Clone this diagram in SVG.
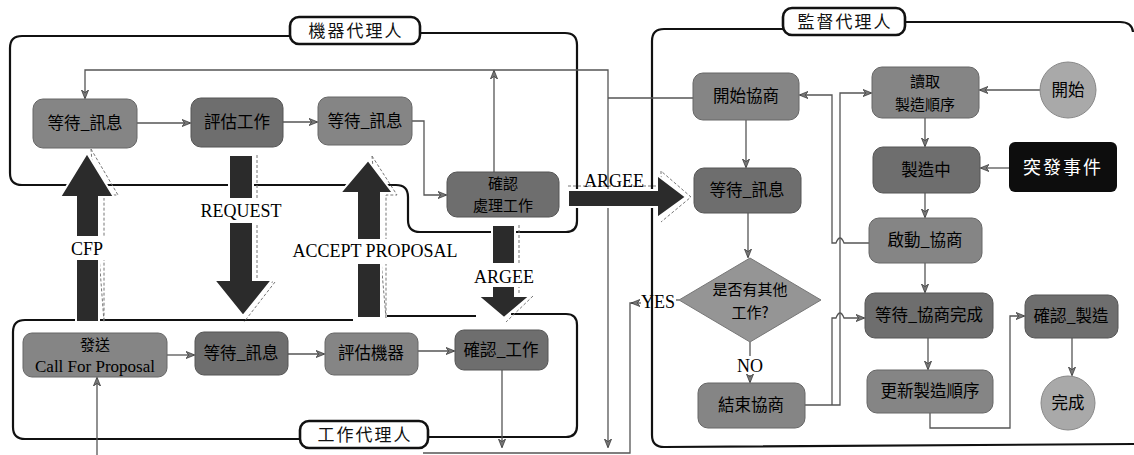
<svg xmlns="http://www.w3.org/2000/svg" width="1134" height="455" viewBox="0 0 1134 455">
<style>
.cont{fill:none;stroke:#111;stroke-width:2.2}
.lbox{fill:#fff;stroke:#111;stroke-width:2.6}
.ltxt{font-family:"Noto Sans CJK TC",sans-serif;font-size:17px;fill:#111;text-anchor:middle;letter-spacing:2px}
.node{fill:#858585;stroke:#666;stroke-width:1}
.dark{fill:#6e6e6e;stroke:#555;stroke-width:1}
.circ{fill:#a9a9a9;stroke:#888;stroke-width:1}
.ntxt{font-family:"Noto Sans CJK TC",sans-serif;font-size:16.5px;fill:#000;text-anchor:middle}
.ntxt2{font-family:"Noto Sans CJK TC",sans-serif;font-size:15px;fill:#000;text-anchor:middle}
.etxt{font-family:"Liberation Serif",serif;font-size:17px;fill:#000;text-anchor:middle}
.lab{font-family:"Liberation Serif",serif;font-size:18px;fill:#000;text-anchor:middle}
.con{fill:none;stroke:#555;stroke-width:1.3}
.big{fill:#2b2b2b;stroke:#fff;stroke-width:2}
.ghost{fill:none;stroke:#777;stroke-width:1;stroke-dasharray:3 2}
</style>
<defs>
<marker id="ah" viewBox="0 0 10 10" refX="9" refY="5" markerWidth="9" markerHeight="9" orient="auto" markerUnits="userSpaceOnUse">
<path d="M0,1 L10,5 L0,9 L3,5 z" fill="#777" stroke="#333" stroke-width="0.8"/>
</marker>
</defs>

<!-- containers -->
<g id="machine-agent">
<path class="cont" d="M290,36 H22 Q10,36 10,48 V173 Q10,185 22,185 H396 Q408,185 408,197 V220 Q408,232 420,232 H566 Q577,232 577,221 V45 Q577,33 565,33 H420"/>
<rect class="lbox" x="290" y="17" width="130" height="27" rx="9"/>
<text class="ltxt" x="356" y="37">機器代理人</text>
</g>
<g id="work-agent">
<path class="cont" d="M300,439 H25 Q13,439 13,427 V332 Q13,320 25,320 H353 M387,316 H476 M511,314 H566 Q577,314 577,325 V426 Q577,437 566,437 H428"/>
<rect class="lbox" x="300" y="421" width="128" height="27" rx="9"/>
<text class="ltxt" x="365" y="441">工作代理人</text>
</g>
<g id="supervisor-agent">
<path class="cont" d="M783,29 H664 Q652,29 652,41 V435 Q652,447 664,447 L1134,444 M905,22 H1120 Q1132,22 1133,32"/>
<rect class="lbox" x="783" y="8" width="122" height="27" rx="9"/>
<text class="ltxt" x="845" y="28">監督代理人</text>
</g>

<!-- connectors -->
<g id="connectors">
<path class="con" marker-end="url(#ah)" d="M137,123 H190"/>
<path class="con" marker-end="url(#ah)" d="M283,122 H317"/>
<path class="con" marker-end="url(#ah)" d="M412,121 H424 V195 H446"/>
<path class="con" marker-end="url(#ah)" d="M494,172 V71"/>
<path class="con" d="M693,98 H608"/>
<path class="con" marker-end="url(#ah)" d="M608,98 V70 H85 V98"/>
<path class="con" marker-end="url(#ah)" d="M608,98 V447"/>
<path class="con" marker-end="url(#ah)" d="M167,355 H194"/>
<path class="con" marker-end="url(#ah)" d="M288,354 H324"/>
<path class="con" marker-end="url(#ah)" d="M418,351 H454"/>
<path class="con" marker-end="url(#ah)" d="M502,370 V447"/>
<path class="con" d="M423,453 H630 V303 H636"/>
<path class="con" marker-end="url(#ah)" d="M641,303 H632"/>
<path class="con" d="M679,300 H676"/>
<path class="con" marker-end="url(#ah)" d="M97,455 V378"/>
<path class="con" marker-end="url(#ah)" d="M746,120 V167"/>
<path class="con" marker-end="url(#ah)" d="M748,213 V257"/>
<path class="con" d="M750,342 V356"/>
<path class="con" marker-end="url(#ah)" d="M750,375 V382"/>
<path class="con" marker-end="url(#ah)" d="M1040,90 H980"/>
<path class="con" marker-end="url(#ah)" d="M925,118 V146"/>
<path class="con" marker-end="url(#ah)" d="M1009,168 H981"/>
<path class="con" marker-end="url(#ah)" d="M925,193 V217"/>
<path class="con" marker-end="url(#ah)" d="M925,263 V292"/>
<path class="con" marker-end="url(#ah)" d="M928,338 V369"/>
<path class="con" marker-end="url(#ah)" d="M930,413 V428 H1010 V316 H1024"/>
<path class="con" marker-end="url(#ah)" d="M1072,338 V375"/>
<path class="con" marker-end="url(#ah)" d="M869,243 H844 Q840,233 836,243 H832 V95 H800"/>
<path class="con" marker-end="url(#ah)" d="M805,405 H840 V93 H871"/>
<path class="con" marker-end="url(#ah)" d="M832,405 V318 H836 Q840,308 844,318 H864"/>
</g>

<!-- big message arrows -->
<g id="arrow-cfp">
<polygon class="ghost" points="91,149 118,195 104,195 104,322"/>
<polygon class="big" points="87,153 114,197 99,197 99,322 76,322 76,197 60,197"/>
<rect x="66" y="236" width="44" height="24" fill="#fff"/>
<text class="lab" x="87" y="255">CFP</text>
</g>
<g id="arrow-request">
<polyline class="ghost" points="257,155 257,282 275,282 244,322"/>
<polygon class="big" points="229,155 253,155 253,280 272,280 243,316 214,280 229,280"/>
<rect x="194" y="198" width="96" height="25" fill="#fff"/>
<text class="lab" x="241" y="217">REQUEST</text>
</g>
<g id="arrow-accept">
<polygon class="ghost" points="372,156 397,195 386,195 386,318"/>
<polygon class="big" points="368,160 393,193 381,193 381,318 357,318 357,193 340,193"/>
<rect x="283" y="239" width="184" height="25" fill="#fff"/>
<text class="lab" x="375" y="257">ACCEPT  PROPOSAL</text>
</g>
<g id="arrow-argee-down">
<polyline class="ghost" points="519,225 519,296 533,296 506,322"/>
<polygon class="big" points="492,225 515,225 515,296 530,296 504,318 478,296 492,296"/>
<rect x="470" y="263" width="68" height="24" fill="#fff"/>
<text class="lab" x="504" y="283">ARGEE</text>
</g>
<g id="arrow-argee-right">
<polyline class="ghost" points="568,186 661,186 661,171 691,197 661,222"/>
<polygon class="big" points="568,190 657,190 657,175 686,197 657,218 657,207 568,207"/>
<text class="lab" x="614" y="187">ARGEE</text>
</g>

<!-- machine agent nodes -->
<g id="m-wait1"><rect class="node" x="33" y="99" width="104" height="49" rx="10"/><text class="ntxt" x="85" y="129">等待_訊息</text></g>
<g id="m-eval"><rect class="dark" x="191" y="98" width="92" height="49" rx="10"/><text class="ntxt" x="237" y="128">評估工作</text></g>
<g id="m-wait2"><rect class="node" x="318" y="97" width="94" height="48" rx="10"/><text class="ntxt" x="365" y="127">等待_訊息</text></g>
<g id="m-confirm"><rect class="dark" x="447" y="172" width="112" height="45" rx="10"/><text class="ntxt2" x="503" y="189">確認</text><text class="ntxt2" x="503" y="211">處理工作</text></g>

<!-- work agent nodes -->
<g id="w-cfp"><rect class="node" x="23" y="333" width="144" height="44" rx="9"/><text class="ntxt2" x="95" y="350">發送</text><text class="etxt" x="95" y="372">Call For Proposal</text></g>
<g id="w-wait"><rect class="dark" x="195" y="332" width="93" height="43" rx="9"/><text class="ntxt" x="241" y="359">等待_訊息</text></g>
<g id="w-eval"><rect class="node" x="325" y="333" width="93" height="42" rx="9"/><text class="ntxt" x="371" y="359">評估機器</text></g>
<g id="w-confirm"><rect class="dark" x="455" y="330" width="93" height="40" rx="9"/><text class="ntxt" x="501" y="356">確認_工作</text></g>

<!-- supervisor nodes -->
<g id="s-start-neg"><rect class="node" x="693" y="73" width="106" height="47" rx="10"/><text class="ntxt" x="746" y="102">開始協商</text></g>
<g id="s-wait"><rect class="dark" x="694" y="168" width="107" height="45" rx="10"/><text class="ntxt" x="747" y="196">等待_訊息</text></g>
<g id="s-decision"><polygon fill="#959595" stroke="#777" points="679,300 750,258 821,300 750,342"/><text class="ntxt2" x="750" y="295">是否有其他</text><text class="ntxt2" x="750" y="318">工作?</text></g>
<text class="lab" x="658" y="308">YES</text>
<text class="lab" x="750" y="372">NO</text>
<g id="s-end-neg"><rect class="node" x="698" y="383" width="107" height="45" rx="10"/><text class="ntxt" x="751" y="411">結束協商</text></g>
<g id="s-read"><rect class="node" x="872" y="67" width="107" height="51" rx="10"/><text class="ntxt2" x="925" y="87">讀取</text><text class="ntxt2" x="925" y="110">製造順序</text></g>
<g id="s-start"><circle class="circ" cx="1068" cy="90" r="28"/><text class="ntxt" x="1068" y="96">開始</text></g>
<g id="s-making"><rect class="dark" x="873" y="147" width="107" height="46" rx="10"/><text class="ntxt" x="926" y="176">製造中</text></g>
<g id="s-event"><rect x="1009" y="142" width="108" height="50" rx="6" fill="#0d0d0d"/><text class="ntxt" x="1063" y="174" style="fill:#fff;font-size:18px;letter-spacing:2px">突發事件</text></g>
<g id="s-launch"><rect class="node" x="869" y="218" width="113" height="45" rx="10"/><text class="ntxt" x="925" y="246">啟動_協商</text></g>
<g id="s-waitdone"><rect class="dark" x="865" y="293" width="128" height="45" rx="10"/><text class="ntxt" x="929" y="321">等待_協商完成</text></g>
<g id="s-update"><rect class="node" x="867" y="370" width="126" height="43" rx="10"/><text class="ntxt" x="930" y="397">更新製造順序</text></g>
<g id="s-confirm"><rect class="dark" x="1025" y="295" width="93" height="43" rx="10"/><text class="ntxt" x="1071" y="322">確認_製造</text></g>
<g id="s-done"><circle class="circ" cx="1068" cy="403" r="27"/><text class="ntxt" x="1068" y="409">完成</text></g>
</svg>
